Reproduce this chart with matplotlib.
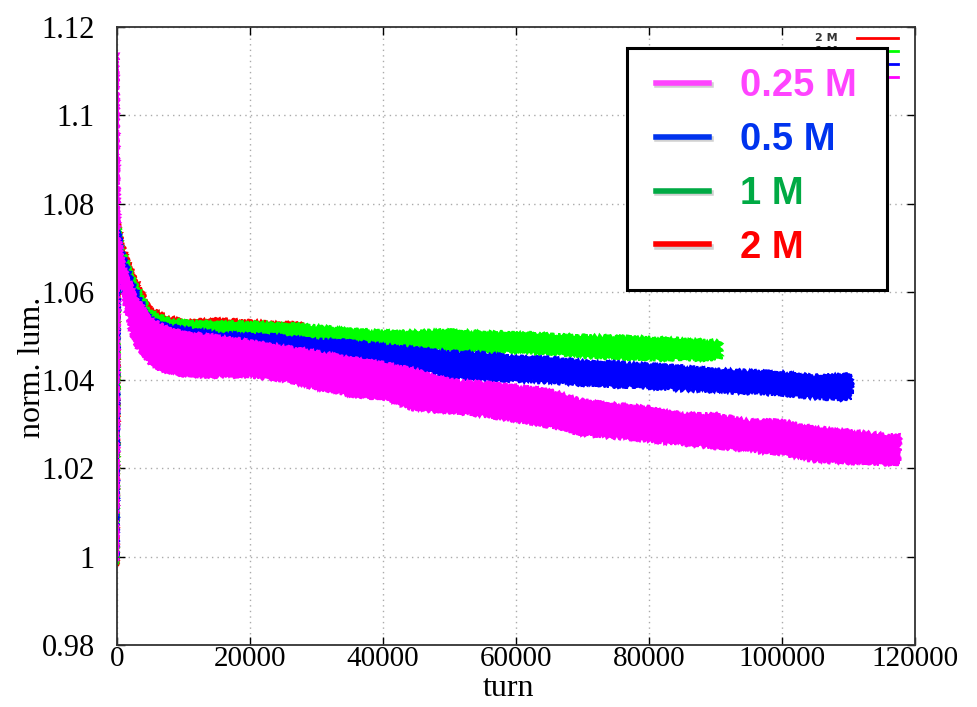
import numpy as np
import matplotlib
matplotlib.use('Agg')
import matplotlib.pyplot as plt
import matplotlib.patheffects as pe
from matplotlib.lines import Line2D
from matplotlib.patches import Rectangle
from matplotlib.ticker import MultipleLocator, FuncFormatter

# envelope (lower / upper edge) of each noisy luminosity trace
turn_025 = [0, 250, 1000, 2500, 5000, 7500, 10000, 15000, 20000, 25000, 30000,
            35000, 40000, 45000, 50000, 55000, 60000, 65000, 70000, 75000,
            80000, 85000, 90000, 95000, 100000, 105000, 110000, 115000, 117700]
hi_025 = [1.114, 1.073, 1.066, 1.060, 1.054, 1.0518, 1.0507, 1.050, 1.0488,
          1.0476, 1.0465, 1.045, 1.0438, 1.0423, 1.0400, 1.0394, 1.0386, 1.0378,
          1.0353, 1.0345, 1.0338, 1.0323, 1.0323, 1.0308, 1.0308, 1.0292,
          1.0285, 1.0277, 1.0274]
lo_025 = [0.999, 1.066, 1.058, 1.0487, 1.0434, 1.0419, 1.0411, 1.0408, 1.0408,
          1.040, 1.0381, 1.0366, 1.0358, 1.0332, 1.0328, 1.0320, 1.0308, 1.0295,
          1.0277, 1.027, 1.0262, 1.0255, 1.0247, 1.024, 1.0232, 1.0217, 1.0213,
          1.021, 1.021]

turn_05 = [0, 250, 1000, 2500, 5000, 7500, 10000, 15000, 20000, 25000, 30000,
           35000, 40000, 45000, 50000, 55000, 60000, 65000, 70000, 75000,
           80000, 85000, 90000, 95000, 100000, 105000, 109000, 110500]
hi_05 = [1.070, 1.074, 1.068, 1.0617, 1.054, 1.0525, 1.0518, 1.0507, 1.0503,
         1.050, 1.0491, 1.0488, 1.048, 1.0472, 1.0464, 1.0462, 1.0452, 1.0450,
         1.0443, 1.0440, 1.0435, 1.0430, 1.0424, 1.0420, 1.0417, 1.0409,
         1.0413, 1.0410]
lo_05 = [0.999, 1.066, 1.060, 1.055, 1.050, 1.048, 1.0472, 1.0468, 1.0465,
         1.0462, 1.045, 1.0442, 1.0434, 1.0427, 1.0406, 1.0400, 1.0398, 1.0396,
         1.039, 1.0386, 1.0383, 1.0378, 1.0375, 1.0371, 1.0368, 1.036, 1.0356,
         1.036]

turn_1 = [0, 250, 1000, 2500, 5000, 7500, 10000, 15000, 20000, 25000, 30000,
          35000, 40000, 45000, 50000, 55000, 60000, 65000, 70000, 75000,
          80000, 85000, 90000, 90800]
hi_1 = [1.000, 1.075, 1.069, 1.063, 1.0556, 1.054, 1.0533, 1.053, 1.053,
        1.0528, 1.0522, 1.0514, 1.051, 1.051, 1.0512, 1.0508, 1.0507, 1.0503,
        1.050, 1.0498, 1.0496, 1.0492, 1.0488, 1.0485]
lo_1 = [0.998, 1.068, 1.061, 1.056, 1.0514, 1.051, 1.051, 1.0503, 1.050,
        1.0495, 1.0491, 1.0488, 1.048, 1.0476, 1.0468, 1.0466, 1.0463, 1.046,
        1.0454, 1.045, 1.0447, 1.0447, 1.0447, 1.0449]

turn_2 = [0, 250, 1000, 2500, 5000, 7500, 10000, 15000, 20000, 25000, 28500]
hi_2 = [1.000, 1.076, 1.070, 1.064, 1.0564, 1.0545, 1.0533, 1.0537, 1.0533,
        1.053, 1.0526]
lo_2 = [0.998, 1.069, 1.062, 1.057, 1.052, 1.0512, 1.0508, 1.0505, 1.0502,
        1.050, 1.0495]

labels = ['0.25 M', '0.5 M', '1 M', '2 M']
line_colors = ['#ff00ff', '#0000ff', '#00ff00', '#ff0000']
key_colors = ['#ff44ff', '#0033ee', '#00aa44', '#ff0000']

plt.rcParams['font.family'] = 'Liberation Serif'

fig = plt.figure(figsize=(9.78, 7.07), dpi=100)
ax = fig.add_axes([0.1196, 0.0877, 0.8160, 0.8741])

series = [(turn_2, lo_2, hi_2, line_colors[3]),
          (turn_1, lo_1, hi_1, line_colors[2]),
          (turn_05, lo_05, hi_05, line_colors[1]),
          (turn_025, lo_025, hi_025, line_colors[0])]
for t, lo, hi, c in series:
    t = np.asarray(t, float)
    xs = np.concatenate([t, t[::-1]])
    ys = np.concatenate([np.asarray(hi), np.asarray(lo)[::-1]])
    poly, = ax.fill(xs, ys, color=c, lw=1.5, zorder=2)
    poly.set_sketch_params(scale=1.8, length=2.5, randomness=3)

ax.set_xlim(0, 120000)
ax.set_ylim(0.98, 1.12)
ax.xaxis.set_major_locator(MultipleLocator(20000))
ax.yaxis.set_major_locator(MultipleLocator(0.02))
ax.yaxis.set_major_formatter(FuncFormatter(lambda v, p: '%g' % round(v, 2)))

ax.grid(True, ls=(0, (1, 3)), lw=1, color='#aaaaaa')
ax.tick_params(direction='in', length=6, width=1, top=True, right=True)
ax.tick_params(axis='x', labelsize=21, pad=1)
ax.tick_params(axis='y', labelsize=22, pad=16)
for s in ax.spines.values():
    s.set_linewidth(1.3)
    s.set_color('#333333')

ax.set_xlabel('turn', fontsize=23)
ax.xaxis.set_label_coords(0.49, -0.047)
ax.set_ylabel('norm. lum.', fontsize=23)
ax.yaxis.set_label_coords(-0.088, 0.45)

# small original key in the corner
fig.text(826 / 978, 1 - 38 / 707, '2 M', fontsize=8, fontweight='bold',
         family='DejaVu Sans', color='#333333', ha='center', va='center',
         zorder=3)
fig.text(826 / 978, 1 - 51 / 707, '1 M', fontsize=8, fontweight='bold',
         family='DejaVu Sans', color='#333333', ha='center', va='center',
         zorder=3)
for yy, c in zip([38, 51, 64, 77], line_colors[::-1]):
    fig.add_artist(Line2D([857 / 978, 898 / 978], [1 - yy / 707] * 2,
                          color=c, lw=2, transform=fig.transFigure, zorder=3))

# boxed key
fig.add_artist(Rectangle((627 / 978, 1 - 290 / 707), 260 / 978, 242 / 707,
                         transform=fig.transFigure, facecolor='white',
                         edgecolor='black', lw=2.2, zorder=4))
handles = [Line2D([], [], color=c, lw=4) for c in key_colors]
leg = fig.legend(handles, labels, loc='upper left',
                 bbox_to_anchor=(656 / 978, 1 - 68 / 707), frameon=False,
                 borderpad=0, borderaxespad=0, handlelength=1.4,
                 handletextpad=0.8, labelspacing=0.47,
                 prop={'family': 'Liberation Sans', 'weight': 'bold',
                       'size': 27.5},
                 labelcolor=key_colors)
leg.set_zorder(5)
for ln in leg.get_lines():
    ln.set_path_effects([pe.SimpleLineShadow(offset=(1, -2), alpha=0.18),
                         pe.Normal()])

fig.savefig('out.png', dpi=100)
